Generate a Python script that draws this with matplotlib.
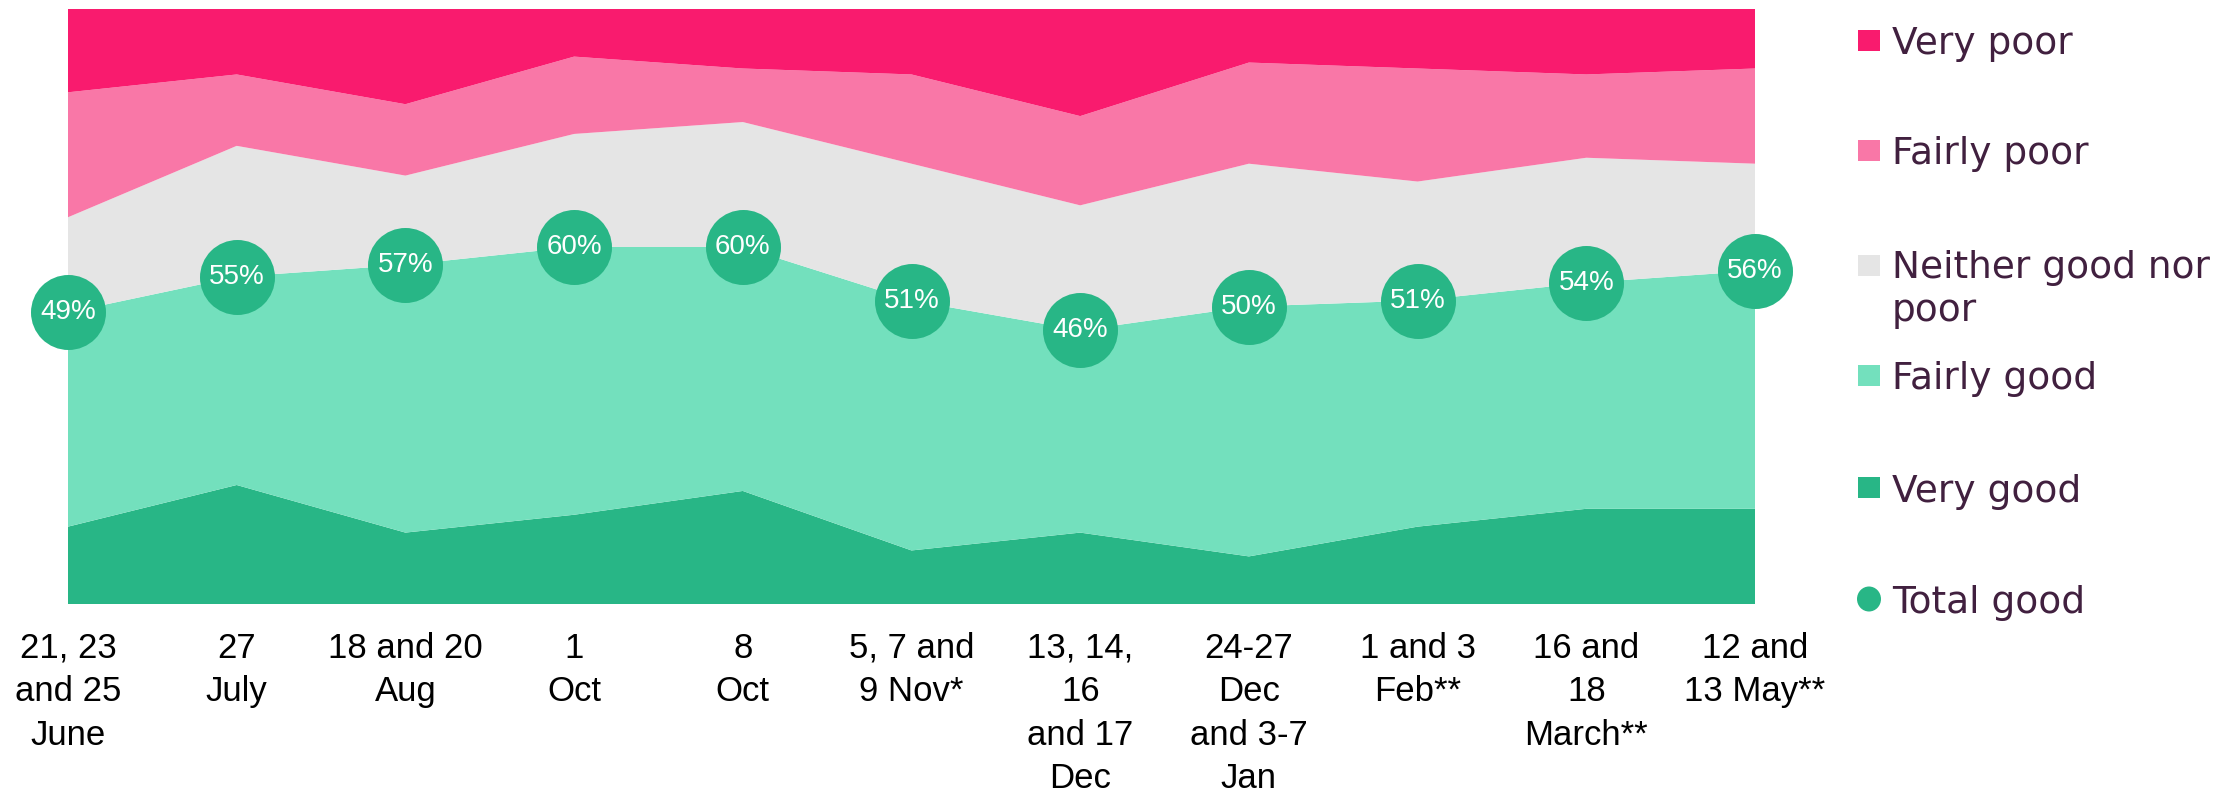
import matplotlib
matplotlib.use("Agg")
import matplotlib.pyplot as plt
import numpy as np
from matplotlib.patches import Rectangle, Ellipse

categories = ["21, 23\nand 25\nJune", "27\nJuly", "18 and 20\nAug", "1\nOct", "8\nOct",
              "5, 7 and\n9 Nov*", "13, 14,\n16\nand 17\nDec", "24-27\nDec\nand 3-7\nJan",
              "1 and 3\nFeb**", "16 and\n18\nMarch**", "12 and\n13 May**"]
very_good = [13, 20, 12, 15, 19, 9, 12, 8, 13, 16, 16]
fairly_good = [36, 35, 45, 45, 41, 42, 34, 42, 38, 38, 40]
neither = [16, 22, 15, 19, 21, 23, 21, 24, 20, 21, 18]
fairly_poor = [21, 12, 12, 13, 9, 15, 15, 17, 19, 14, 16]
very_poor = [14, 11, 16, 8, 10, 11, 18, 9, 10, 11, 10]
total_good = [49, 55, 57, 60, 60, 51, 46, 50, 51, 54, 56]

colors = {"Very poor": "#F91B6E", "Fairly poor": "#F977A7", "Neither": "#E5E5E5",
          "Fairly good": "#73E0BD", "Very good": "#28B686"}
legend_color = "#41203F"

fig = plt.figure(figsize=(22.36, 7.92), dpi=100)
ax = fig.add_axes([68/2236, 1-604/792, (1755-68)/2236, 595/792])

x = np.arange(len(categories))
ax.stackplot(x, very_good, fairly_good, neither, fairly_poor, very_poor,
             colors=[colors["Very good"], colors["Fairly good"], colors["Neither"],
                     colors["Fairly poor"], colors["Very poor"]], linewidth=0)
ax.set_xlim(0, len(categories) - 1)
ax.set_ylim(0, 100)
for s in ax.spines.values():
    s.set_visible(False)
ax.set_yticks([])
ax.set_xticks(x)
ax.set_xticklabels(categories, fontfamily=["Liberation Sans", "DejaVu Sans"], fontsize=25,
                   linespacing=1.4, color="black")
ax.tick_params(axis="x", length=0, pad=20)

ax.scatter(x, total_good, s=54**2, color=colors["Very good"], clip_on=False, zorder=5, linewidths=0)
for xi, v in zip(x, total_good):
    ax.text(xi, v, f"{v}%", ha="center", va="center", color="white", fontsize=20,
            fontfamily=["Liberation Sans", "DejaVu Sans"], zorder=6)

# Legend (manual)
legend_items = [("Very poor", colors["Very poor"], 40, "sq"),
                ("Fairly poor", colors["Fairly poor"], 150, "sq"),
                ("Neither good nor\npoor", colors["Neither"], 265, "sq"),
                ("Fairly good", colors["Fairly good"], 375, "sq"),
                ("Very good", colors["Very good"], 488, "sq"),
                ("Total good", colors["Very good"], 599, "circle")]
W, H = 2236, 792
for label, col, yc, kind in legend_items:
    yf = 1 - yc / H
    if kind == "sq":
        fig.patches.append(Rectangle((1858/W, yf - 10.5/H), 22/W, 21/H, transform=fig.transFigure,
                                     facecolor=col, edgecolor="none"))
    else:
        fig.patches.append(Ellipse((1869/W, yf), 24/W, 25/H, transform=fig.transFigure,
                                   facecolor=col, edgecolor="none"))
    if "\n" in label:
        fig.text(1892/W, yf + 15/H, label, ha="left", va="top", fontsize=27, color=legend_color,
                 fontfamily="DejaVu Sans", linespacing=1.25)
    else:
        fig.text(1892/W, yf, label, ha="left", va="center_baseline", fontsize=27, color=legend_color,
                 fontfamily="DejaVu Sans")

fig.savefig("out.png", dpi=100)
